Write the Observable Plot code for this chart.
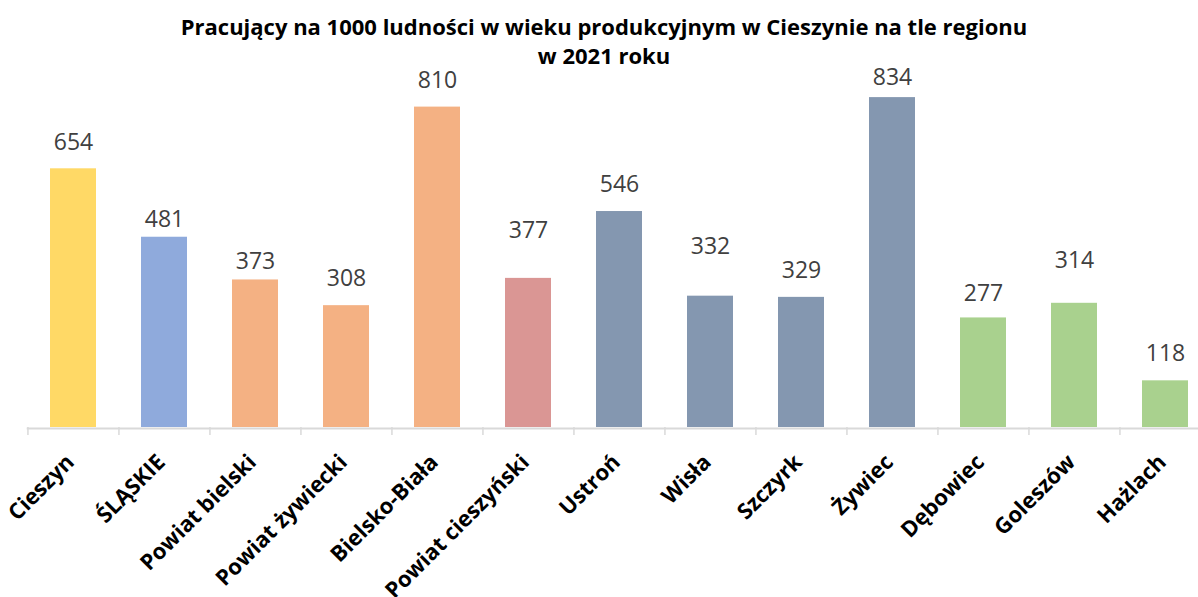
<!DOCTYPE html>
<html>
<head>
<meta charset="utf-8">
<script src="https://cdn.jsdelivr.net/npm/d3@7"></script>
<script src="https://cdn.jsdelivr.net/npm/@observablehq/plot@0.6"></script>
<style>
  html, body { margin: 0; padding: 0; background: #fff; overflow: hidden; }
  #wrap { width: 1198px; height: 597px; overflow: hidden; position: relative; }
  #title {
    position: absolute; left: 0; top: 0;
    width: 1208px; box-sizing: border-box; padding-top: 12px;
    text-align: center; font-family: "Open Sans", Lato, sans-serif; font-weight: bold;
    font-size: 22px; line-height: 29px; color: #000; z-index: 2;
  }
  #chart { position: absolute; left: 0; top: 0; }
</style>
</head>
<body>
<div id="wrap">
  <div id="chart"></div>
  <div id="title">Pracujący na 1000 ludności w wieku produkcyjnym w Cieszynie na tle regionu<br>w 2021 roku</div>
</div>
<script>
const categories = ["Cieszyn", "ŚLĄSKIE", "Powiat bielski", "Powiat żywiecki", "Bielsko-Biała", "Powiat cieszyński", "Ustroń", "Wisła", "Szczyrk", "Żywiec", "Dębowiec", "Goleszów", "Hażlach"];
const values = [654, 481, 373, 308, 810, 377, 546, 332, 329, 834, 277, 314, 118];
const groups = ["miasto", "województwo", "powiat", "powiat", "powiat", "powiat cieszyński", "gmina", "gmina", "gmina", "gmina", "gmina wiejska", "gmina wiejska", "gmina wiejska"];

// styling (not data)
const barColors = ["#FFD966", "#8FAADC", "#F4B183", "#F4B183", "#F4B183", "#DA9694", "#8497B0", "#8497B0", "#8497B0", "#8497B0", "#A9D18E", "#A9D18E", "#A9D18E"];
const labelOffsets = [-26, -18, -18, -27, -26.5, -48, -27, -50, -27, -20, -24, -43, -27];

const data = categories.map((c, i) => ({category: c, value: values[i], group: groups[i], color: barColors[i], dy: labelOffsets[i]}));

const width = 1212, marginLeft = 26.7, marginRight = 0.7;
const step = (width - marginLeft - marginRight) / categories.length;

const chart = Plot.plot({
  width,
  height: 597,
  marginTop: 71,
  marginBottom: 170,
  marginLeft,
  marginRight,
  style: {maxWidth: "none", fontFamily: "'Open Sans', Lato, sans-serif", background: "#fff"},
  x: {type: "band", domain: categories, paddingInner: 0.5, paddingOuter: 0.25, axis: null, label: null},
  y: {domain: [0, 900], axis: null, label: null},
  marks: [
    Plot.barY(data, {x: "category", y: "value", fill: d => d.color}),
    Plot.ruleY([0], {stroke: "#D9D9D9", strokeWidth: 2, dy: 1}),
    Plot.axisX({tickSize: 8, tickFormat: () => "", label: null, dx: -step / 2, stroke: "#D9D9D9", strokeWidth: 1.5, tickPadding: 0}),
    ...data.map(d => Plot.text([d], {
      x: "category", y: "value", text: d => String(d.value), dy: d.dy,
      lineAnchor: "middle", fontSize: 23, fill: "#404040"
    })),
    Plot.text(data, {
      x: "category", y: 0, text: "category", rotate: -45,
      textAnchor: "end", lineAnchor: "middle", dx: -3, dy: 31,
      fontSize: 22, fontWeight: "bold", fill: "#000"
    })
  ]
});
document.getElementById("chart").appendChild(chart);
</script>
</body>
</html>
